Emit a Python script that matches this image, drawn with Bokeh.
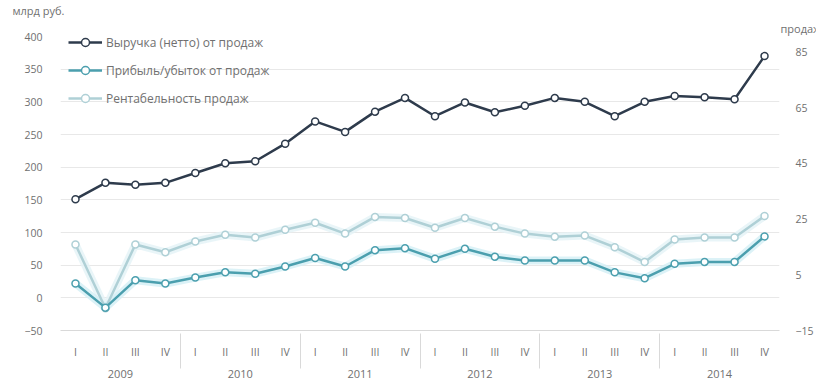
from bokeh.plotting import figure
from bokeh.models import (FactorRange, Range1d, LinearAxis, FixedTicker, Legend,
                          LegendItem, Title, ColumnDataSource)
from bokeh.embed import file_html
from bokeh.resources import INLINE

years = ["2009", "2010", "2011", "2012", "2013", "2014"]
quarters = ["I", "II", "III", "IV"]

revenue = [151, 176, 173, 176, 191, 206, 209, 236, 270, 254, 285, 306,
           278, 299, 284, 294, 306, 300, 278, 300, 309, 307, 304, 370]
profit = [22, -15, 27, 22, 31, 39, 37, 48, 61, 48, 73, 76,
          60, 75, 63, 57, 57, 57, 39, 30, 52, 55, 55, 94]
margin = [15.9, -7.0, 15.9, 13.1, 17.0, 19.4, 18.4, 21.2, 23.7, 19.8, 25.8, 25.4,
          21.9, 25.4, 22.3, 19.8, 18.7, 19.1, 14.9, 9.6, 17.7, 18.4, 18.4, 26.1]

series_names = ["Выручка (нетто) от продаж", "Прибыль/убыток от продаж",
                "Рентабельность продаж"]
left_unit = "млрд руб."
right_unit = "продаж, %"
left_ticks = [-50, 0, 50, 100, 150, 200, 250, 300, 350, 400]
right_ticks = [-15, 5, 25, 45, 65, 85]

FONT = "Open Sans"
TXT = "#707070"
C_REV = "#2e3b4c"
C_PROF = "#4b9fae"
C_MARG = "#afd0d6"

factors = [(y, q) for y in years for q in quarters]
src = ColumnDataSource(dict(x=factors, rev=revenue, prof=profit, marg=margin))

p = figure(width=816, height=380,
           x_range=FactorRange(*factors, group_padding=0, factor_padding=0,
                               range_padding=0),
           y_range=Range1d(-50, 400),
           output_backend="svg", toolbar_location=None, tools="",
           min_border_left=60, min_border_right=36, min_border_top=36,
           min_border_bottom=44)
p.extra_y_ranges = {"right": Range1d(-15, 90.6)}
p.outline_line_color = None
p.background_fill_color = "white"
p.border_fill_color = "white"

# unit labels above the frame
p.title.text = left_unit
p.title.align = "left"
p.title.offset = -48
p.title.standoff = 1
p.title.text_font = FONT
p.title.text_font_size = "11px"
p.title.text_font_style = "normal"
p.title.text_color = TXT
p.add_layout(Title(text=right_unit, align="left", offset=720, standoff=1,
                   text_font=FONT, text_font_size="11px",
                   text_font_style="normal", text_color=TXT), "above")

p.xgrid.grid_line_color = None
p.ygrid.grid_line_color = "#e8e8e8"
p.ygrid.grid_line_width = 1
p.ygrid.ticker = FixedTicker(ticks=left_ticks)

# left axis
ya = p.yaxis[0]
ya.ticker = FixedTicker(ticks=left_ticks)
ya.axis_line_color = None
ya.major_tick_line_color = None
ya.minor_tick_line_color = None
ya.major_label_standoff = 12
ya.major_label_text_font = FONT
ya.major_label_text_font_size = "10.5px"
ya.major_label_text_color = TXT

# right axis
ra = LinearAxis(y_range_name="right", ticker=FixedTicker(ticks=right_ticks))
ra.axis_line_color = None
ra.major_tick_line_color = None
ra.minor_tick_line_color = None
ra.major_label_standoff = 10
ra.major_label_text_font = FONT
ra.major_label_text_font_size = "10.5px"
ra.major_label_text_color = TXT
p.add_layout(ra, "right")

# x axis
xa = p.xaxis[0]
xa.axis_line_color = "#d9d9d9"
xa.major_tick_line_color = None
xa.minor_tick_line_color = None
xa.major_label_standoff = 8
xa.major_label_text_font = FONT
xa.major_label_text_font_size = "10.5px"
xa.major_label_text_color = TXT
xa.group_text_font = FONT
xa.group_text_font_size = "11px"
xa.group_text_font_style = "normal"
xa.group_text_color = TXT
xa.separator_line_color = "#d9d9d9"
xa.separator_line_width = 1

# glows
p.line("x", "marg", source=src, y_range_name="right", color="#e3f3f6", line_width=8, alpha=0.8)
p.line("x", "prof", source=src, color="#d3eff5", line_width=8, alpha=0.8)

r_ml = p.line("x", "marg", source=src, y_range_name="right", color=C_MARG, line_width=2.5)
r_mc = p.scatter("x", "marg", source=src, y_range_name="right", size=7,
                 fill_color="white", line_color=C_MARG, line_width=1.5)
r_pl = p.line("x", "prof", source=src, color=C_PROF, line_width=2.5)
r_pc = p.scatter("x", "prof", source=src, size=7, fill_color="white",
                 line_color=C_PROF, line_width=1.5)
r_rl = p.line("x", "rev", source=src, color=C_REV, line_width=2.5)
r_rc = p.scatter("x", "rev", source=src, size=7, fill_color="white",
                 line_color=C_REV, line_width=1.5)

legend = Legend(items=[LegendItem(label=series_names[0], renderers=[r_rl, r_rc]),
                       LegendItem(label=series_names[1], renderers=[r_pl, r_pc]),
                       LegendItem(label=series_names[2], renderers=[r_ml, r_mc])],
                location=(8, 222), padding=0, margin=0, spacing=8,
                label_height=20, glyph_height=20, glyph_width=34,
                label_standoff=4, border_line_color=None,
                background_fill_alpha=0,
                label_text_font=FONT, label_text_font_size="12px",
                label_text_color=TXT)
p.add_layout(legend)

open("out.html", "w").write(file_html(p, INLINE))
